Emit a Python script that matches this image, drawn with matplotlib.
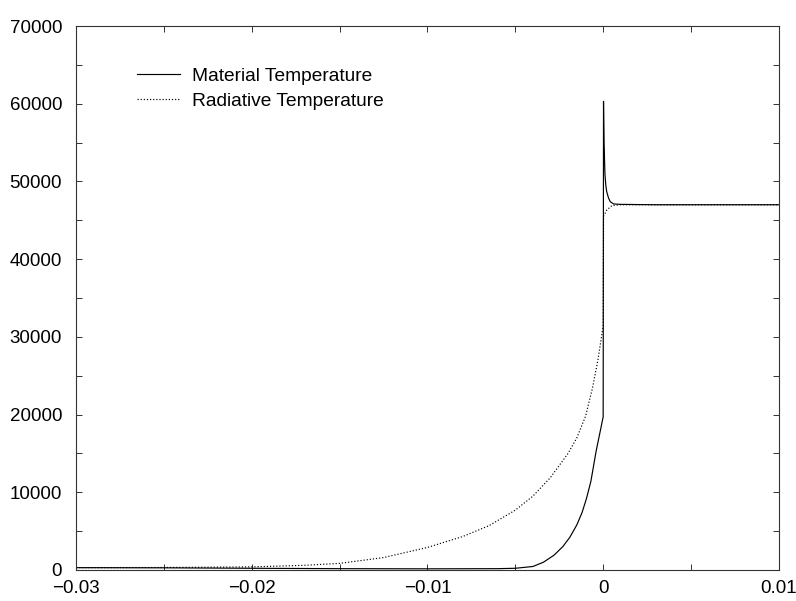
import matplotlib
matplotlib.use("Agg")
import matplotlib.pyplot as plt
from matplotlib.ticker import MultipleLocator, FuncFormatter

plt.rcParams['font.family'] = ['Liberation Sans', 'DejaVu Sans']

# material temperature
x_mat = [-0.030, -0.025, -0.020, -0.015, -0.010, -0.006, -0.005, -0.004, -0.0034,
         -0.0028, -0.0023, -0.0019, -0.0015, -0.0012, -0.00095, -0.0007, -0.0004,
         -0.0002, 0.0, 0.00002, 0.00005, 0.0001, 0.00015, 0.0002, 0.0003, 0.0004,
         0.0006, 0.001, 0.003, 0.006, 0.010]
t_mat = [300, 280, 220, 170, 150, 170, 220, 450, 1000,
         1900, 3000, 4200, 5800, 7400, 9200, 11400, 15300,
         17500, 19700, 60300, 55000, 51000, 49500, 48700, 47900, 47400,
         47100, 47050, 47000, 47000, 47000]

# radiative temperature
x_rad = [-0.030, -0.025, -0.020, -0.017, -0.015, -0.0125, -0.010, -0.008, -0.0065,
         -0.005, -0.004, -0.003, -0.002, -0.0015, -0.001, -0.0006, -0.0003, 0.0,
         0.00002, 0.0002, 0.0005, 0.001, 0.005, 0.010]
t_rad = [300, 320, 400, 600, 850, 1600, 2900, 4300, 5700,
         7700, 9500, 11900, 15000, 17000, 19800, 23500, 27000, 31400,
         45500, 46300, 46900, 47000, 47000, 47000]

labels = ['Material Temperature', 'Radiative Temperature']

fig = plt.figure(figsize=(7.96, 6.01), dpi=100)
ax = fig.add_axes([0.0955, 0.0516, 0.883, 0.9051])

ax.plot(x_mat, t_mat, color='black', lw=0.85, linestyle='-', label=labels[0])
ax.plot(x_rad, t_rad, color='black', lw=0.85, linestyle=':', label=labels[1])

ax.set_xlim(-0.03, 0.01)
ax.set_ylim(0, 70000)

ax.xaxis.set_major_locator(MultipleLocator(0.01))
ax.xaxis.set_minor_locator(MultipleLocator(0.005))
ax.yaxis.set_major_locator(MultipleLocator(10000))
ax.yaxis.set_minor_locator(MultipleLocator(5000))


def fmt_x(v, pos):
    if abs(v) < 1e-9:
        return '0'
    s = '%.2f' % abs(v)
    return ('\u2212' + s) if v < 0 else s


ax.xaxis.set_major_formatter(FuncFormatter(fmt_x))
ax.yaxis.set_major_formatter(FuncFormatter(lambda v, p: '%d' % v))

ax.tick_params(which='both', direction='in', top=True, right=True,
               length=4.5, width=0.7, color='#333333', labelsize=13.5)
ax.tick_params(axis='y', pad=10)
ax.tick_params(axis='x', pad=7.5)

for sp in ax.spines.values():
    sp.set_linewidth(0.8)
    sp.set_color('#333333')

ax.legend(loc='upper left', bbox_to_anchor=(0.172, 0.888), bbox_transform=fig.transFigure,
          frameon=False, fontsize=13.8, handlelength=2.24, handletextpad=0.62,
          labelspacing=0.42, borderpad=0, borderaxespad=0)

fig.savefig('out.png', dpi=100)
